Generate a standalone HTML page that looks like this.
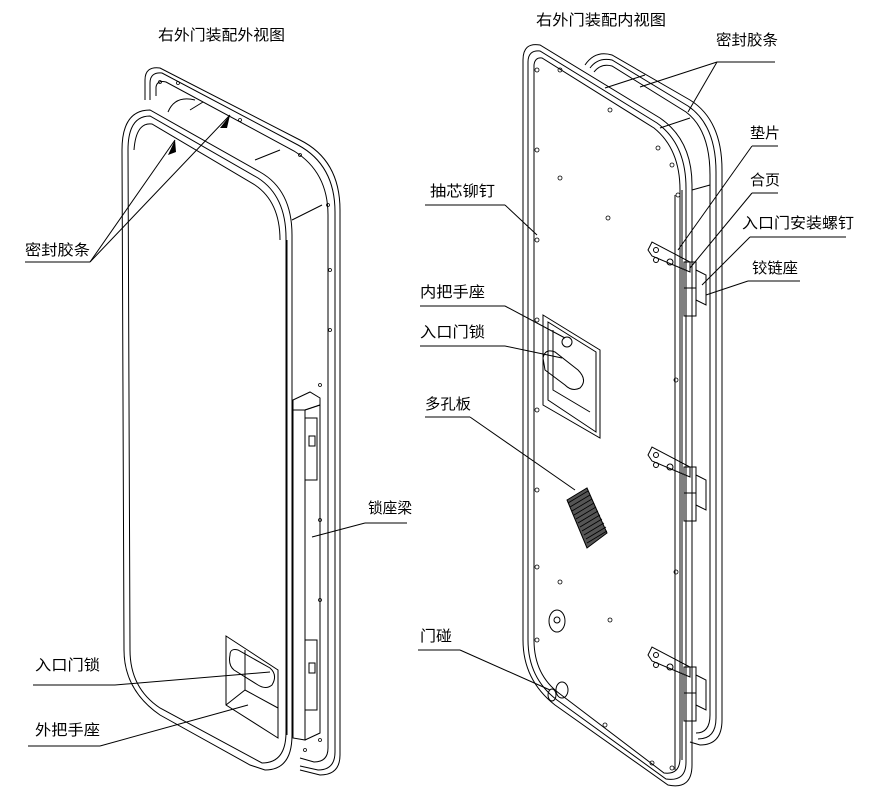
<!DOCTYPE html>
<html><head><meta charset="utf-8"><style>
html,body{margin:0;padding:0;background:#fff}
svg{display:block}
text{font-family:"Liberation Sans","Noto Sans CJK SC",sans-serif;font-size:15px;fill:#000}
</style></head><body>
<svg width="874" height="791" viewBox="0 0 874 791" xmlns="http://www.w3.org/2000/svg">
<g fill="none" stroke="#000" stroke-width="1">
<!-- LEFT DOOR back frame -->
<path d="M145,100 L145,80 Q145,66 160,68 L300,140 Q340,160 340,210 L340,755 Q340,775 320,775 L300,770"/>
<path d="M150,100 L150,83 Q150,72 162,73 L298,145 Q335,165 335,212 L335,752 Q335,770 318,770 L300,766"/>
<path d="M156,96 L156,87 Q157,80 166,82 L294,151 Q328,172 328,215 L328,748 Q328,762 314,762 L300,758"/>
<path d="M168,112 Q175,95 195,100"/>
<line x1="190" y1="110" x2="203" y2="102"/>
<line x1="255" y1="160" x2="280" y2="150"/>
<line x1="292" y1="220" x2="322" y2="205"/>
<!-- LEFT DOOR front panel -->
<path d="M122,150 Q122,110 150,110 L260,172 Q292,190 292,235 L292,735 Q292,770 265,770 L250,765 L160,715 Q124,690 124,650 Z"/>
<path d="M128,150 Q128,116 150,116 L258,178 Q286,196 286,238 L286,732 Q286,763 262,763 L160,708 Q130,688 130,650 Z"/>
<path d="M134,150 Q136,122 152,124 L255,185 Q280,202 280,240"/>
<line x1="287" y1="240" x2="287" y2="735"/>
<!-- lock beam -->
<path d="M293,410 L293,738 L305,740 L305,410 Z"/>
<path d="M305,410 L320,405 L320,733 L305,740"/>
<path d="M293,400 L310,392 L320,398 L320,405 L305,410 L293,410 Z"/>
<rect x="305" y="418" width="12" height="62"/>
<rect x="305" y="640" width="12" height="70"/>
<rect x="309" y="436" width="6" height="10"/>
<rect x="309" y="663" width="6" height="10"/>
<!-- outer handle seat -->
<path d="M226,636 L226,705 L278,738 L278,670 Z"/>
<path d="M226,705 L245,690 L278,708"/>
<path d="M245,650 L245,690"/>
<path d="M230,655 Q230,648 238,650 L270,668 Q278,675 272,685 Q266,690 258,685 L234,670 Q228,665 230,655 Z"/>
<!-- RIGHT DOOR back frame -->
<path d="M585,65 Q595,50 612,55 L690,100 Q722,120 722,170 L722,720 Q722,745 700,745 L690,742"/>
<path d="M590,68 Q598,57 612,60 L688,106 Q716,125 716,172 L716,718 Q716,739 698,739"/>
<path d="M594,72 Q601,63 612,66 L686,112 Q710,130 710,175 L710,715 Q710,733 696,733"/>
<!-- RIGHT DOOR front panel -->
<path d="M523,640 L523,60 Q523,42 540,45 L660,118 Q692,140 692,185 L692,765 Q692,790 668,785 L555,705 Q523,680 523,640 Z"/>
<path d="M528,640 L528,62 Q528,50 540,51 L657,123 Q686,144 686,188 L686,762 Q686,782 666,779 L557,700 Q528,678 528,640 Z"/>
<path d="M534,640 L534,65 Q535,57 542,58 L654,128 Q680,149 680,190 L680,758 Q680,775 664,773 L560,694 Q534,675 534,640 Z"/>
<line x1="682" y1="190" x2="682" y2="760"/>
<line x1="675" y1="195" x2="675" y2="770"/>
<line x1="605" y1="88" x2="645" y2="75"/>
<line x1="660" y1="128" x2="690" y2="118"/>
<line x1="692" y1="190" x2="710" y2="185"/>
<!-- hinges -->
<g id="h">
<path d="M648,250 L652,242 L690,262 L690,272 L652,256 Z"/>
<rect x="684" y="262" width="12" height="26"/>
<rect x="684" y="288" width="12" height="28"/>
<path d="M696,270 L706,275 L706,305 L696,300"/>
<circle cx="656" cy="250" r="2.5"/><circle cx="656" cy="260" r="2.5"/><circle cx="670" cy="262" r="3"/>
</g>
<use href="#h" transform="translate(0,205)"/>
<use href="#h" transform="translate(0,405)"/>
<!-- inner handle seat -->
<path d="M543,315 L600,350 L600,438 L543,405 Z"/>
<path d="M548,322 L596,352 L596,432 L548,400 Z"/>
<path d="M553,330 L553,390 L590,412"/>
<path d="M543,358 Q545,348 555,352 L578,370 Q588,380 580,388 Q572,392 565,385 L545,370 Z"/>
<circle cx="567" cy="342" r="5"/>
<!-- perforated plate -->
<path d="M567,500 L587,488 L607,533 L587,548 Z" fill="#555"/>
<g stroke-width="0.8" stroke="#000">
<line x1="568" y1="503" x2="588" y2="491"/><line x1="570" y1="507" x2="590" y2="495"/>
<line x1="572" y1="511" x2="592" y2="499"/><line x1="574" y1="515" x2="594" y2="503"/>
<line x1="576" y1="519" x2="596" y2="507"/><line x1="578" y1="523" x2="598" y2="511"/>
<line x1="580" y1="527" x2="600" y2="515"/><line x1="582" y1="531" x2="602" y2="519"/>
<line x1="584" y1="535" x2="604" y2="523"/><line x1="586" y1="539" x2="606" y2="527"/>
<line x1="587" y1="543" x2="607" y2="531"/>
</g>
<ellipse cx="557" cy="621" rx="8" ry="11"/>
<circle cx="557" cy="620" r="3"/>
<!-- door stop -->
<ellipse cx="562" cy="690" rx="6" ry="8"/>
<ellipse cx="552" cy="695" rx="4" ry="6"/>
<!-- rivets -->
<g stroke-width="0.8">
<circle cx="537" cy="70" r="2"/><circle cx="537" cy="150" r="2"/><circle cx="537" cy="240" r="2"/><circle cx="537" cy="320" r="2"/><circle cx="537" cy="410" r="2"/><circle cx="537" cy="490" r="2"/><circle cx="537" cy="567" r="2"/><circle cx="537" cy="640" r="2"/>
<circle cx="560" cy="70" r="2"/><circle cx="610" cy="110" r="2"/><circle cx="658" cy="148" r="2"/><circle cx="672" cy="165" r="2"/><circle cx="678" cy="195" r="2"/>
<circle cx="560" cy="178" r="2"/><circle cx="608" cy="218" r="2"/><circle cx="560" cy="582" r="2"/><circle cx="610" cy="620" r="2"/>
<circle cx="676" cy="572" r="2"/><circle cx="676" cy="380" r="2"/><circle cx="605" cy="725" r="2"/><circle cx="652" cy="763" r="2"/><circle cx="672" cy="768" r="2"/>
<circle cx="160" cy="82" r="1.5"/><circle cx="178" cy="83" r="1.5"/><circle cx="240" cy="120" r="1.5"/><circle cx="300" cy="155" r="1.5"/><circle cx="328" cy="205" r="1.5"/>
<circle cx="330" cy="270" r="1.5"/><circle cx="330" cy="330" r="1.5"/><circle cx="320" cy="385" r="1.5"/><circle cx="320" cy="520" r="1.5"/><circle cx="320" cy="600" r="1.5"/><circle cx="320" cy="740" r="1.5"/><circle cx="305" cy="750" r="1.5"/>
</g>
<!-- LEADERS -->
<line x1="25" y1="262" x2="90" y2="262"/><line x1="90" y1="262" x2="175" y2="140"/><line x1="90" y1="262" x2="230" y2="115"/>
<line x1="365" y1="523" x2="407" y2="523"/><line x1="365" y1="523" x2="312" y2="537"/>
<line x1="33" y1="685" x2="115" y2="685"/><line x1="115" y1="685" x2="270" y2="672"/>
<line x1="28" y1="746" x2="100" y2="746"/><line x1="100" y1="746" x2="248" y2="705"/>
<line x1="717" y1="62" x2="775" y2="62"/><line x1="717" y1="62" x2="640" y2="87"/><line x1="717" y1="62" x2="688" y2="112"/>
<line x1="752" y1="146" x2="778" y2="146"/><line x1="752" y1="146" x2="678" y2="250"/>
<line x1="752" y1="193" x2="778" y2="193"/><line x1="752" y1="193" x2="690" y2="268"/>
<line x1="750" y1="237" x2="846" y2="237"/><line x1="750" y1="237" x2="702" y2="285"/>
<line x1="748" y1="281" x2="800" y2="281"/><line x1="748" y1="281" x2="706" y2="295"/>
<line x1="425" y1="205" x2="505" y2="205"/><line x1="505" y1="205" x2="537" y2="235"/>
<line x1="420" y1="306" x2="505" y2="306"/><line x1="505" y1="306" x2="565" y2="338"/>
<line x1="420" y1="346" x2="505" y2="346"/><line x1="505" y1="346" x2="562" y2="358"/>
<line x1="425" y1="417" x2="470" y2="417"/><line x1="470" y1="417" x2="575" y2="490"/>
<line x1="418" y1="650" x2="460" y2="650"/><line x1="460" y1="650" x2="550" y2="690"/>
</g>
<polygon points="175,140 168,155 176,152" fill="#000"/>
<polygon points="230,115 220,128 227,128" fill="#000"/>
<!-- TEXT -->
<text x="158" y="40" textLength="127" lengthAdjust="spacingAndGlyphs">右外门装配外视图</text>
<text x="536" y="25" textLength="130" lengthAdjust="spacingAndGlyphs">右外门装配内视图</text>
<text x="25" y="255" textLength="65" lengthAdjust="spacingAndGlyphs">密封胶条</text>
<text x="368" y="513" textLength="44" lengthAdjust="spacingAndGlyphs">锁座梁</text>
<text x="35" y="670" textLength="65" lengthAdjust="spacingAndGlyphs">入口门锁</text>
<text x="35" y="735" textLength="65" lengthAdjust="spacingAndGlyphs">外把手座</text>
<text x="716" y="45" textLength="62" lengthAdjust="spacingAndGlyphs">密封胶条</text>
<text x="750" y="138" textLength="30" lengthAdjust="spacingAndGlyphs">垫片</text>
<text x="750" y="185" textLength="30" lengthAdjust="spacingAndGlyphs">合页</text>
<text x="742" y="228" textLength="112" lengthAdjust="spacingAndGlyphs">入口门安装螺钉</text>
<text x="752" y="273" textLength="46" lengthAdjust="spacingAndGlyphs">铰链座</text>
<text x="430" y="196" textLength="65" lengthAdjust="spacingAndGlyphs">抽芯铆钉</text>
<text x="420" y="297" textLength="65" lengthAdjust="spacingAndGlyphs">内把手座</text>
<text x="420" y="337" textLength="65" lengthAdjust="spacingAndGlyphs">入口门锁</text>
<text x="425" y="409" textLength="46" lengthAdjust="spacingAndGlyphs">多孔板</text>
<text x="420" y="641" textLength="32" lengthAdjust="spacingAndGlyphs">门碰</text>
</svg>
</body></html>
